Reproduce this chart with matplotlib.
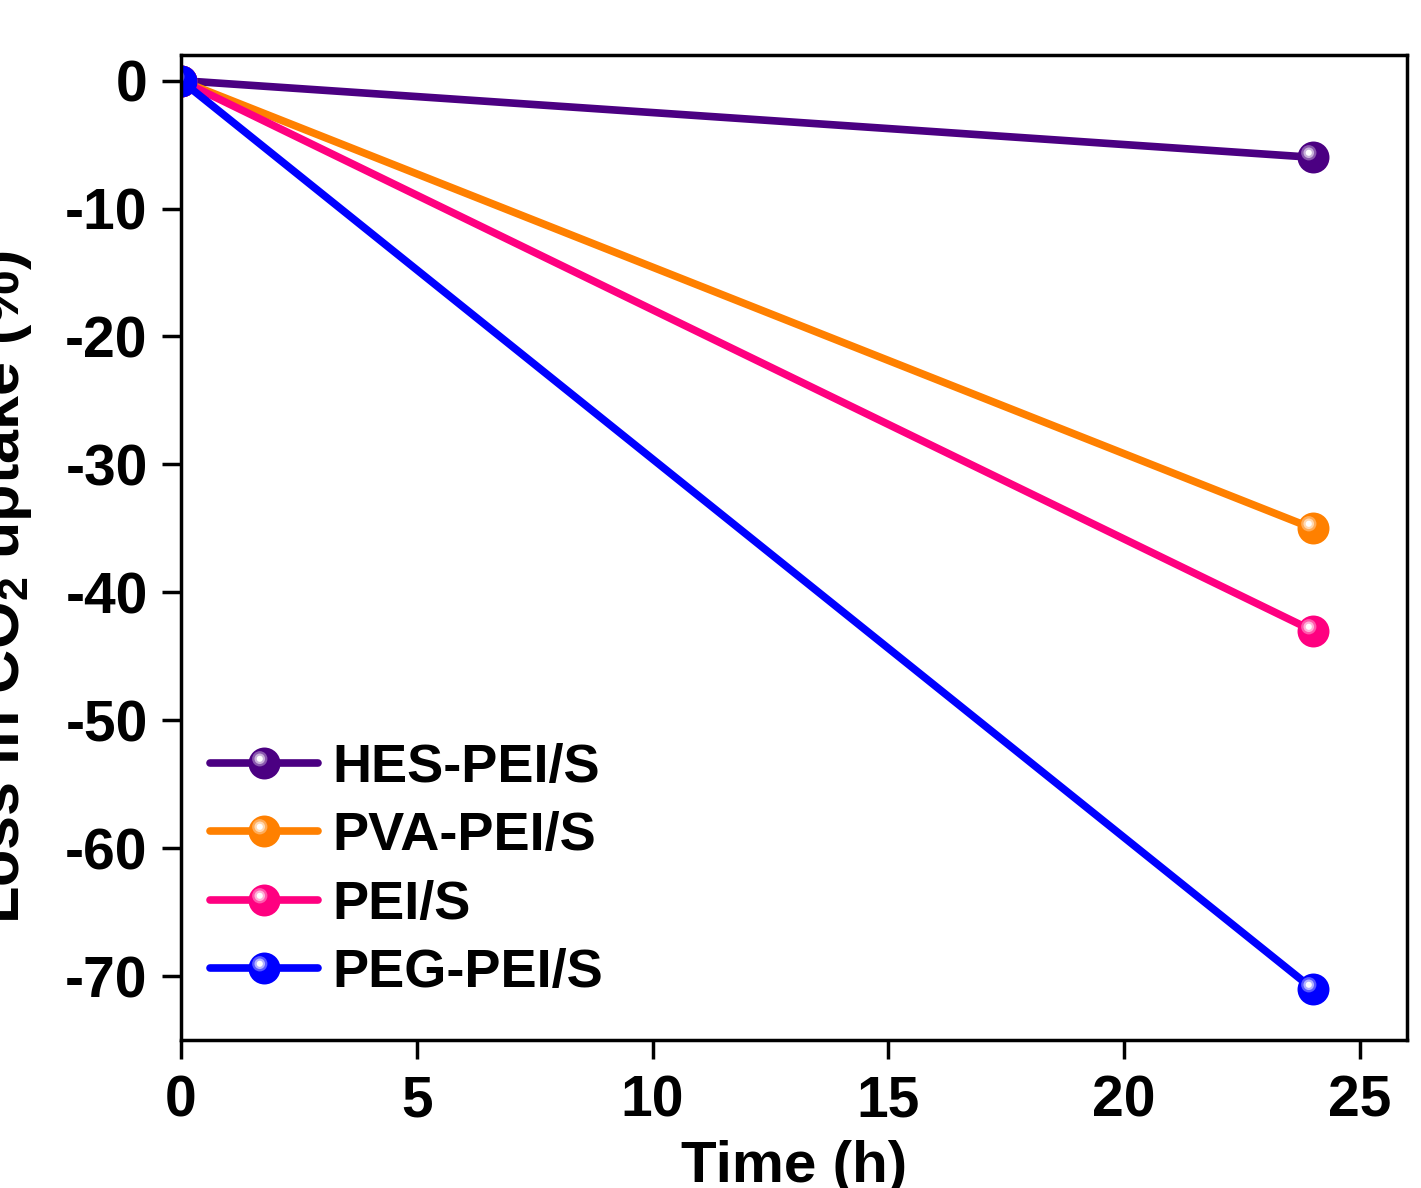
import matplotlib
matplotlib.use("Agg")
import matplotlib.pyplot as plt
from matplotlib.path import Path
from matplotlib.legend_handler import HandlerTuple

# data
time_h = [0, 24]
series_names = ["HES-PEI/S", "PVA-PEI/S", "PEI/S", "PEG-PEI/S"]
hes = [0, -6.0]
pva = [0, -35.0]
pei = [0, -43.0]
peg = [0, -71.0]
colors = ["#4B0082", "#FF8000", "#FF0080", "#0000FF"]

x_ticks = [0, 5, 10, 15, 20, 25]
y_ticks = [0, -10, -20, -30, -40, -50, -60, -70]

plt.rcParams['font.family'] = ['Liberation Sans', 'DejaVu Sans']
plt.rcParams['font.weight'] = 'bold'
plt.rcParams['axes.unicode_minus'] = False
plt.rcParams['mathtext.fontset'] = 'custom'
plt.rcParams['mathtext.rm'] = 'Liberation Sans:bold'
plt.rcParams['mathtext.bf'] = 'Liberation Sans:bold'
plt.rcParams['mathtext.default'] = 'bf'


def highlight(off, r):
    # small offset circle used as a glossy highlight on the sphere markers
    return Path.circle((-off, off), r), 2 * (off + r)


def lighten(c, f):
    rgb = matplotlib.colors.to_rgb(c)
    return tuple(v + (1 - v) * f for v in rgb)


fig = plt.figure(figsize=(14.21, 11.88), dpi=100)
ax = fig.add_axes([0.1274, 0.1246, 0.8627, 0.8291])

# three layers of highlight to fake the shaded spheres
layers = [(highlight(3.4, 5.5), 0.35), (highlight(3.4, 3.8), 0.7), (highlight(3.4, 2.2), 1.0)]

handles = []
for name, vals, c in zip(series_names, [hes, pva, pei, peg], colors):
    ln, = ax.plot(time_h, vals, color=c, lw=5.5, marker='o', markersize=23,
                  markeredgewidth=0, solid_capstyle='round')
    group = [ln]
    for (path, ms), f in layers:
        h, = ax.plot(time_h, vals, ls='none', marker=path, markersize=ms,
                     color=lighten(c, f), markeredgewidth=0)
        group.append(h)
    handles.append(tuple(group))

ax.set_xlim(0, 26)
ax.set_ylim(-75, 2)
ax.set_xticks(x_ticks)
ax.set_yticks(y_ticks)

ax.tick_params(axis='both', direction='out', length=14, width=2.5, labelsize=41)
ax.tick_params(axis='x', pad=11)
ax.tick_params(axis='y', pad=10)
for sp in ax.spines.values():
    sp.set_linewidth(2.5)

ax.set_xlabel("Time (h)", fontsize=42, fontweight='bold')
ax.xaxis.set_label_coords(0.5, -0.102)
ax.set_ylabel("Loss in CO$_2$ uptake (%)", fontsize=44, fontweight='bold')
ax.yaxis.set_label_coords(-0.12, 0.46)

ax.legend(handles, series_names, handler_map={tuple: HandlerTuple(ndivide=1, pad=0)},
          loc='upper left', bbox_to_anchor=(0.0237, 0.3015), frameon=False,
          fontsize=39, handlelength=2.0, handletextpad=0.25, labelspacing=0.34,
          borderpad=0, borderaxespad=0)

fig.savefig("out.png", dpi=100)
